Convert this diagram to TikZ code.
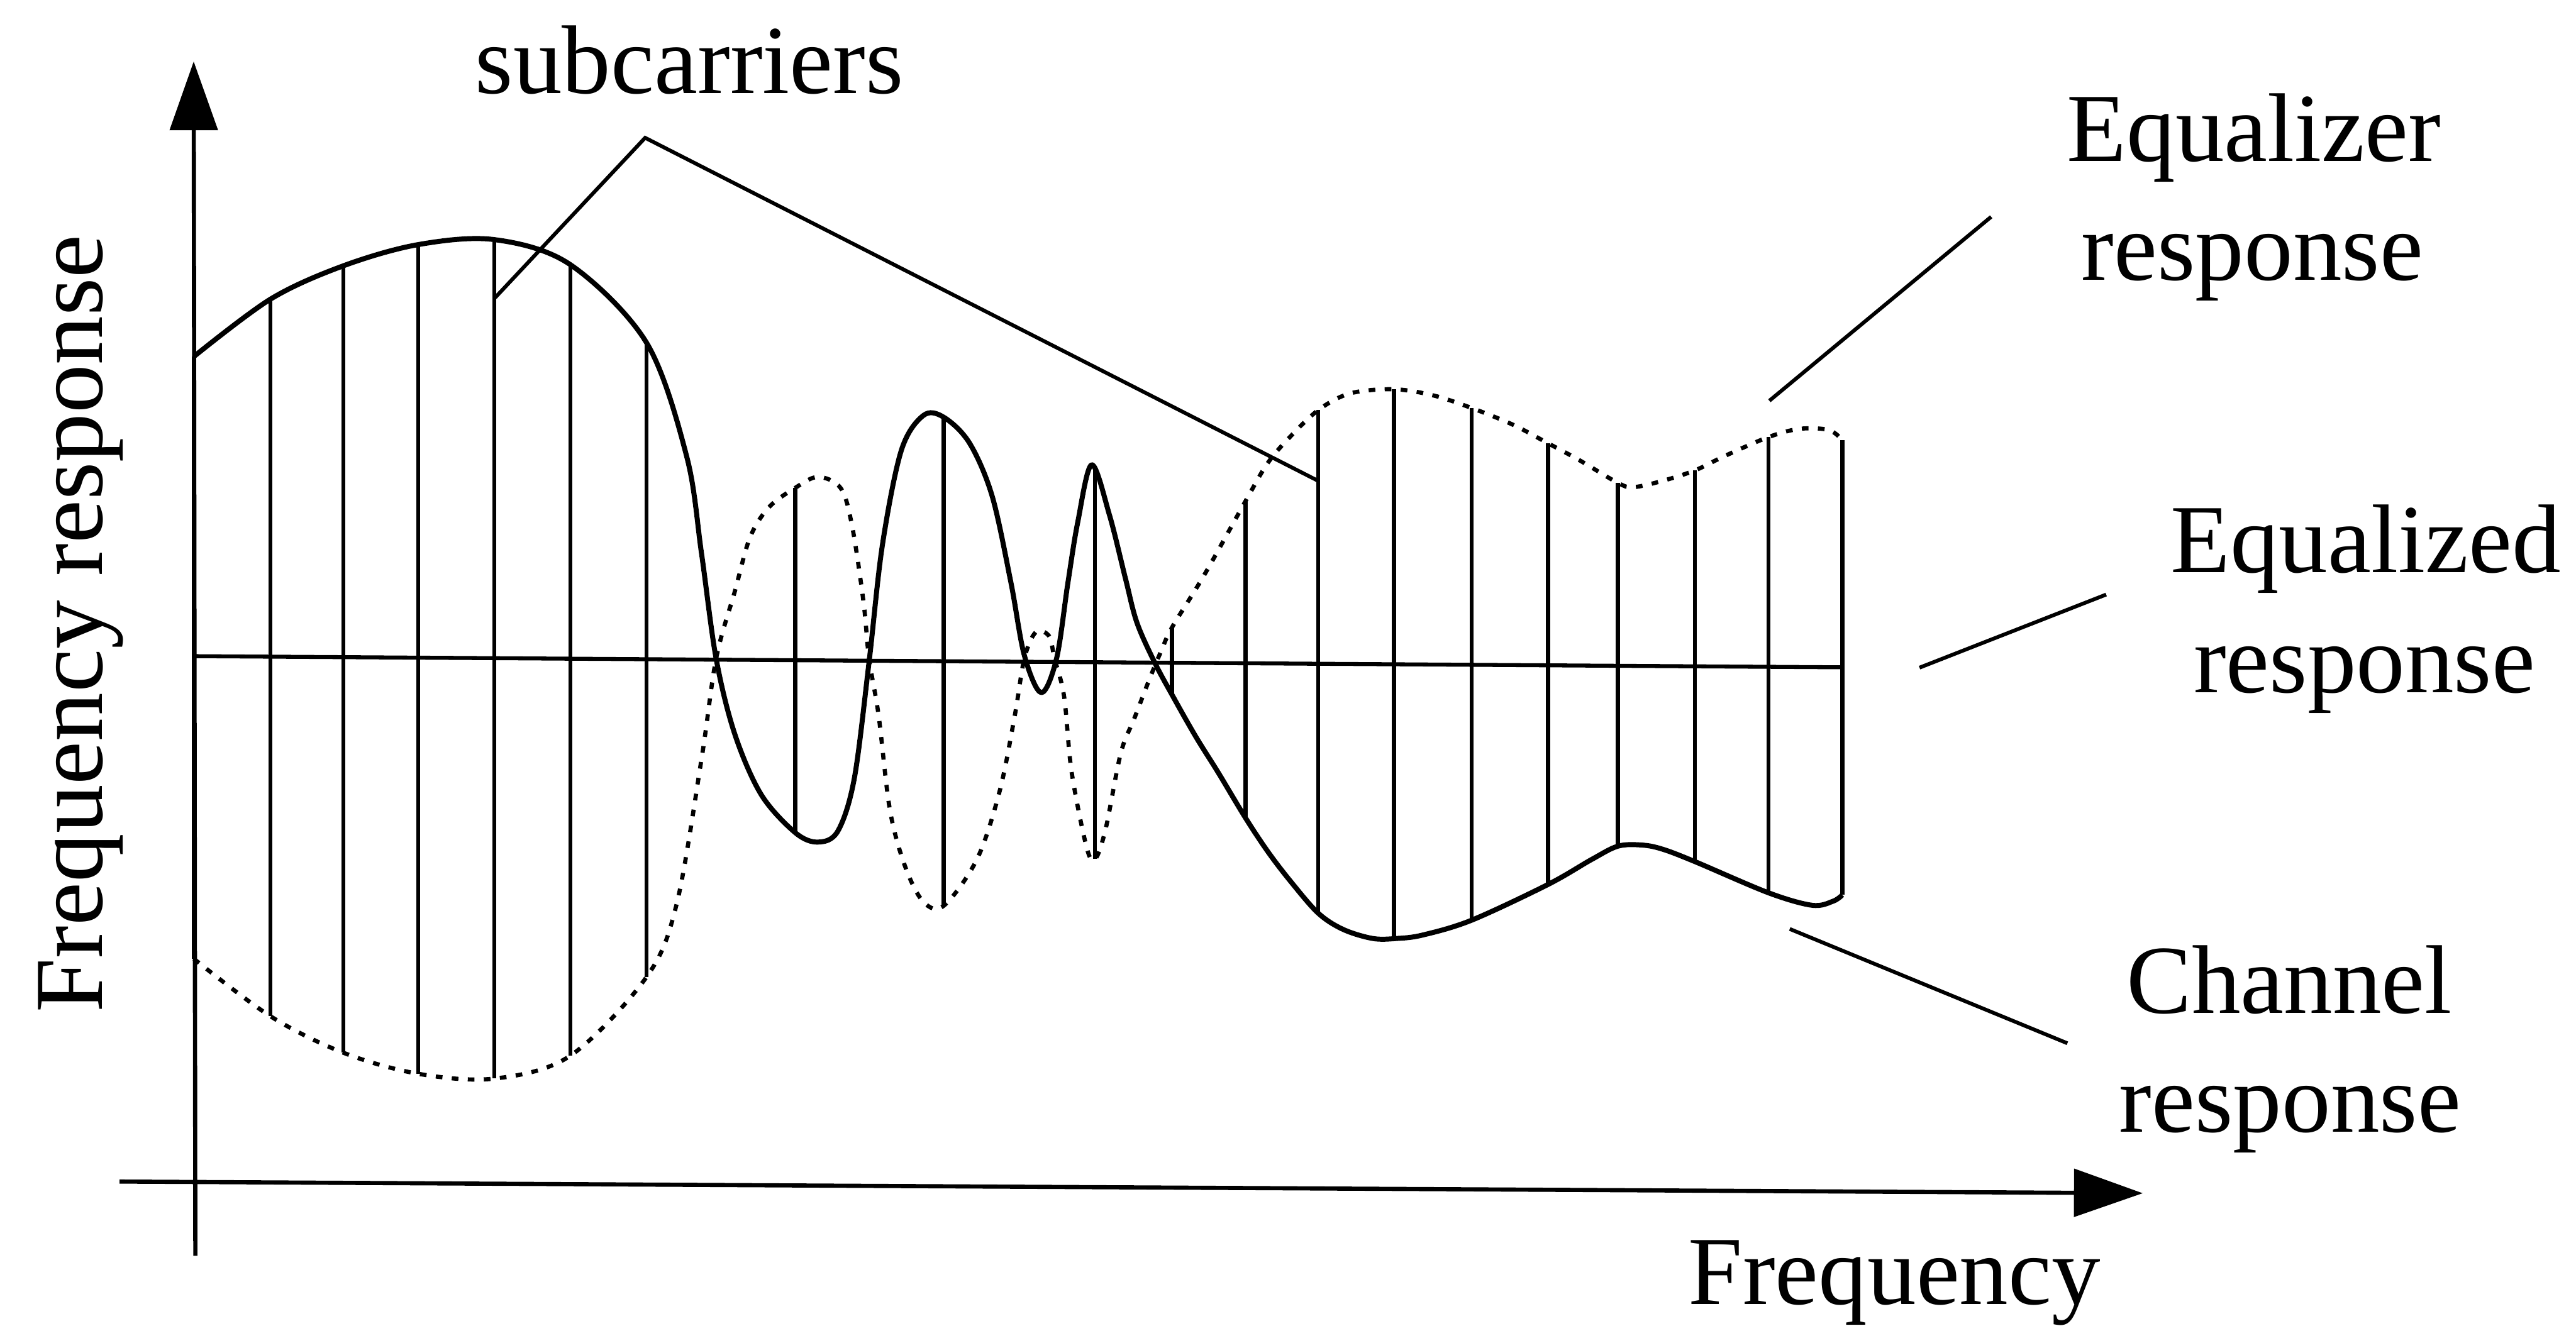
\documentclass[tikz,border=0pt]{standalone}
\usepackage{fontspec}
\setmainfont{Liberation Serif}
\usetikzlibrary{arrows.meta}
\begin{document}
\begin{tikzpicture}[x=0.027685cm, y=-0.027685cm,
  chan/.style={line width=2.4pt, line join=round},
  eqz/.style={line width=2pt, dash pattern=on 3.2pt off 4.5pt},
  sc/.style={line width=1.9pt},
  mid/.style={line width=1.9pt},
  lead/.style={line width=1.8pt},
  lbl/.style={font=\fontsize{46.8pt}{56pt}\selectfont, inner sep=0pt, anchor=base},
  axis/.style={line width=2pt, -{Triangle[length=1.16cm, width=0.8cm]}}]
\useasboundingbox (0,0) rectangle (1568,807);

% axes
\coordinate (yb) at (118.9,764.6);
\coordinate (yt) at (117.9,37.4);
\coordinate (xl) at (72.8,719.4);
\coordinate (xr) at (1304.3,726.5);
\draw[axis] (yb) -- (yt);
\draw[axis] (xl) -- (xr);

% equalized response (flat line)
\coordinate (m0) at (118,399.5);
\coordinate (m1) at (1121.4,406.3);
\draw[mid] (m0) -- (m1);

% subcarriers
\foreach \x/\a/\b in {118/217.1/583.8, 164.7/182.1/618.8, 209.1/161.8/641, 254.7/148.9/653.8,
  301/145.9/656.7, 347.1/161.1/642.8, 393.5/208.6/594.9, 484.1/297/507, 574.4/254/551.5,
  666.6/285.8/523.1, 713.4/382/423, 758.2/305/498.1, 802.4/249.7/556, 848.5/237/571.4,
  895.7/248.4/560.3, 942.3/269.9/538.5, 984.8/294/515.2, 1031.7/286.4/524.6,
  1076.5/266.1/543.6, 1121.4/268/544.9}
  \draw[sc] (\x,\a) -- (\x,\b);

% channel response (solid)
\draw[chan] plot[smooth, tension=0.55] coordinates {
 (118,217.1) (164.7,182.1) (209.1,161.8) (254.7,148.9) (301,145.9) (347.1,161.1)
 (393.5,208.6) (418,278) (427,336.9) (435.9,401) (447.3,447.1) (463.4,483.9)
 (484.1,507) (497.9,512.7) (510,506) (520,474) (529,403) (537.1,331.9)
 (548.6,274.3) (562,253) (574.4,254) (590.1,269.7) (603.9,302) (615.4,355)
 (623.5,399) (633.8,421.7) (643.1,401) (650,355) (656,318) (664.5,283) (675.3,313.5)
 (685,352) (692,379) (702.9,403.5) (713.4,423) (727.8,448.4) (741.6,470.5)
 (758.2,498.1) (772,518.9) (785.8,536.9) (802.4,556) (817.6,565.9) (835.6,571.4)
 (850.1,571.4) (866,569.3) (895.7,560.3) (942.3,538.5)
 (968.8,523.3) (984.8,515.2) (999.3,514.5) (1011.9,517) (1031.7,524.6)
 (1076.5,543.6) (1103.1,551.2) (1115.8,548.7) (1121.4,544.9)};

% equalizer response (dotted)
\draw[eqz] plot[smooth, tension=0.55] coordinates {
 (118,583.8) (164.7,618.8) (209.1,641) (254.7,653.8) (301,656.7) (347.1,642.8)
 (393.5,594.9) (411.8,550.7) (427,462.2) (435.9,401) (447.3,360) (456.5,327.3)
 (468,308.9) (484.1,297) (497.9,290.4) (511.8,297.3) (518.7,320.4) (525.6,366.4)
 (529,401) (534.8,435.6) (541.7,493.2) (551,527.7) (562,549) (574.4,551.5)
 (594.7,523.1) (608.5,481.6) (617.7,435.6) (623.5,401) (630.4,385) (638.5,387.2)
 (641.9,401) (647.7,424) (652.3,470.1) (661.5,516.2) (666.6,523.1) (673,504.7)
 (682.2,458.6) (690.5,437.3) (700.1,412.4) (707,395.9) (713.4,382) (732.9,350.3) (758.2,305)
 (771.2,282.6) (783.9,267.4) (802.4,249.7) (821.9,239.5) (848.5,237) (872.6,240.8)
 (895.7,248.4) (920.7,258.5) (942.3,269.9) (961.2,280.1) (984.8,294) (994.2,296.6)
 (1011.9,292.8) (1031.7,286.4) (1049.9,277.6) (1076.5,266.1) (1095.5,261.1)
 (1113.2,261.8) (1121.4,268)};

% labels
\node[lbl] (subc) at (419.7,56.9) {subcarriers};
\node[lbl] (eqr1) at (1372,98) {Equalizer};
\node[lbl] (eqr2) at (1371,170.5) {response};
\node[lbl] (eqd1) at (1440,348.6) {Equalized};
\node[lbl] (eqd2) at (1439.2,421.6) {response};
\node[lbl] (ch1) at (1393.5,616.8) {Channel};
\node[lbl] (ch2) at (1394,689.3) {response};
\node[lbl] (xlab) at (1153.2,794) {Frequency};
\node[lbl, rotate=90] (ylab) at (62.2,379.7) {Frequency response};

% leader lines
\coordinate (scv) at (392.7,83.9);
\coordinate (sc4) at (301.4,181.2);
\coordinate (sc15) at (802.4,292.8);
\draw[lead] (sc4) -- (scv) -- (sc15);
\coordinate (eqra) at (1077,244);
\coordinate (eqrb) at (1212,132);
\draw[lead] (eqra) -- (eqrb);
\coordinate (eqda) at (1168.4,406.5);
\coordinate (eqdb) at (1282,362);
\draw[lead] (eqda) -- (eqdb);
\coordinate (cha) at (1089.4,565.6);
\coordinate (chb) at (1258.4,635.2);
\draw[lead] (cha) -- (chb);
\end{tikzpicture}
\end{document}
